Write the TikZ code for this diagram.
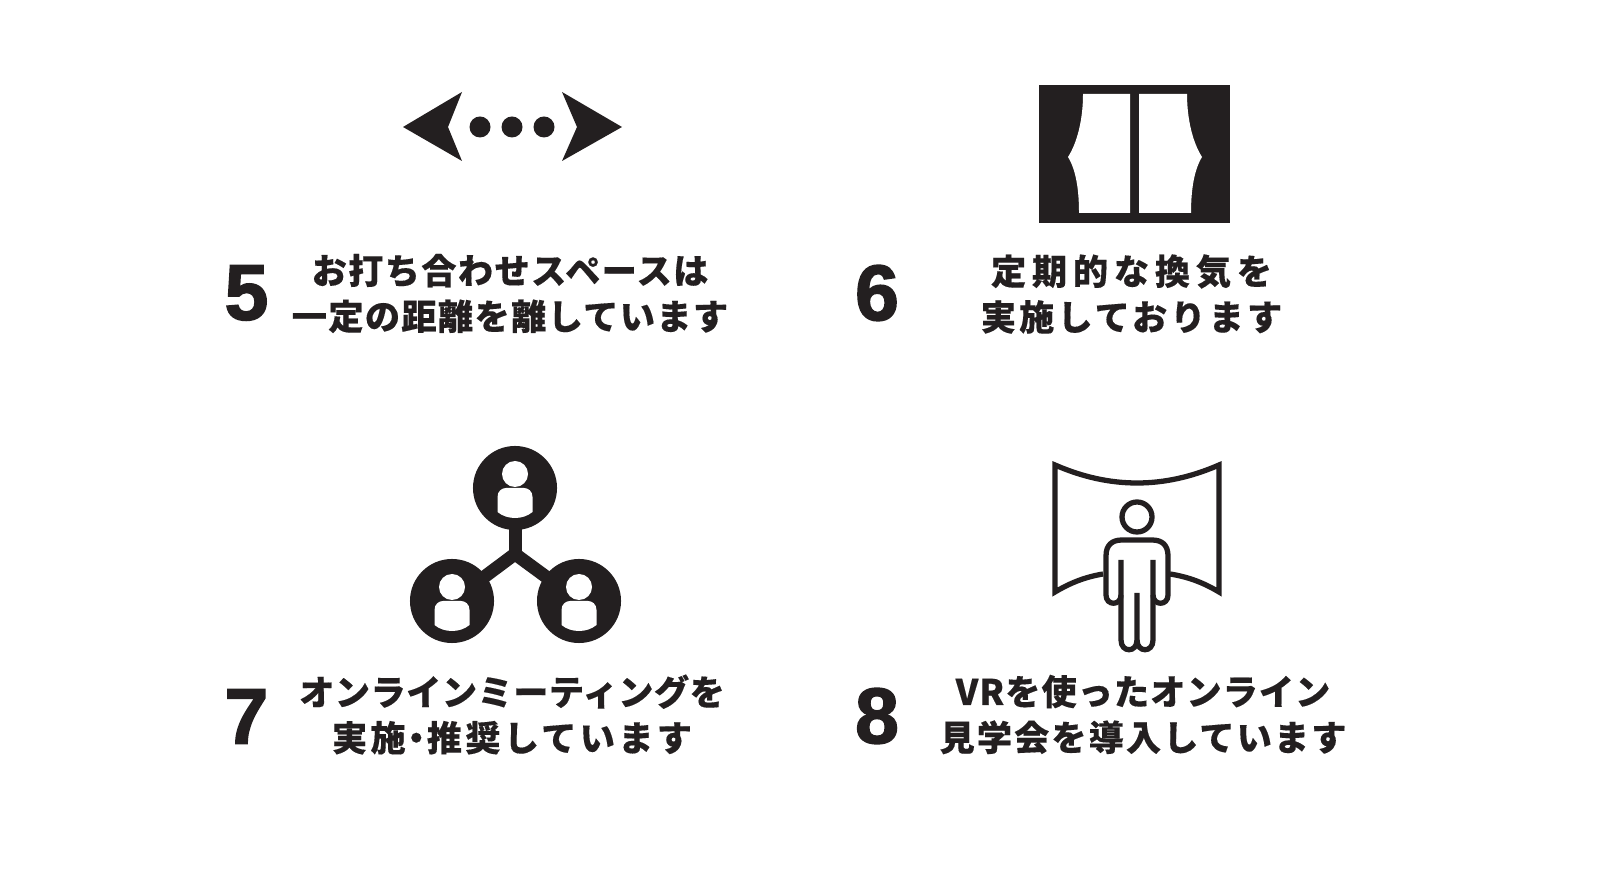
\documentclass[tikz,border=0pt]{standalone}
\usepackage{fontspec}
\setmainfont{Noto Sans CJK JP Black}[FakeBold=0.3]
\newfontfamily\numfont{Liberation Sans Bold}[FakeBold=2]
\definecolor{ink}{HTML}{231F20}
\newcommand{\trk}[2]{{\addfontfeature{LetterSpace=#1}#2}}
\tikzset{
  capt/.style={font=\fontsize{10pt}{13pt}\selectfont, text=ink, inner sep=0pt, align=center},
  num/.style={font=\fontsize{22.4pt}{24pt}\numfont, text=ink, inner sep=0pt},
  disc/.style={circle, fill=ink, minimum size=0.84cm, inner sep=0pt},
  link/.style={draw=ink, line width=3.7pt, line join=miter},
  lineart/.style={draw=ink, line width=1.5pt, line join=miter}
}
\begin{document}
\begin{tikzpicture}[x=0.01cm, y=-0.01cm]
  \useasboundingbox (0,0) rectangle (1598,880);
  % arrows
  \fill[ink] (403,127) -- (462,92) -- (448,127) -- (462,161) -- cycle;
  \fill[ink] (622,127) -- (562,92) -- (577,127) -- (562,161) -- cycle;
  \foreach \px in {480,512,544}
    \fill[ink] (\px,127) circle (10.5);
  % curtains
  \fill[ink] (1039,85) rectangle (1230,223);
  \fill[white] (1083,94) -- (1130,94) -- (1130,213) -- (1079,213)
    .. controls (1079,190) and (1076,170) .. (1068,157)
    .. controls (1077,143) and (1083,120) .. (1083,94) -- cycle;
  \fill[white] (1187,94) -- (1139,94) -- (1139,213) -- (1191,213)
    .. controls (1191,190) and (1194,170) .. (1202,157)
    .. controls (1193,143) and (1187,120) .. (1187,94) -- cycle;
  % meeting
  \coordinate (hub) at (515,554);
  \foreach \nm/\px/\py in {top/515/488, lft/452/601, rgt/579/601} {
    \node[disc] (\nm) at (\px,\py) {};
    \fill[white] (\px,\py-14) circle (13);
    \fill[white] (\px-17.5,\py+9) .. controls (\px-17.5,\py+3) and (\px-13,\py) .. (\px-9,\py)
      -- (\px+9,\py) .. controls (\px+13,\py) and (\px+17.5,\py+3) .. (\px+17.5,\py+9)
      -- (\px+17.5,\py+24) .. controls (\px+8,\py+32) and (\px-8,\py+32) .. (\px-17.5,\py+24) -- cycle;
  }
  \draw[link, shorten <=-1.5pt] (top) -- (hub);
  \draw[link, shorten <=-1.5pt, shorten >=-1.5pt] (lft) -- (hub) -- (rgt);
  % vr
  \draw[lineart] (1103,574) .. controls (1085,577) and (1070,583) .. (1055,592)
    -- (1055,465) .. controls (1110,489) and (1164,489) .. (1219,465) -- (1219,592)
    .. controls (1204,583) and (1189,577) .. (1170,574);
  \draw[lineart] (1137,517) circle (15);
  \draw[lineart] (1121,560) -- (1121,640) .. controls (1121,653) and (1137,653) .. (1137,640) -- (1137,593);
  \draw[lineart] (1137,640) .. controls (1137,653) and (1153,653) .. (1153,640) -- (1153,560);
  \draw[lineart] (1121,595) .. controls (1121,606) and (1106,606) .. (1106,595) -- (1106,556)
    .. controls (1106,545) and (1112,540) .. (1122,540) -- (1152,540)
    .. controls (1162,540) and (1168,545) .. (1168,556) -- (1168,595)
    .. controls (1168,606) and (1153,606) .. (1153,595);
  % labels
  \node[num] (n5) at (246.5,293) {5};
  \node[num] (n6) at (877,293) {6};
  \node[num] (n7) at (246.5,716.5) {7};
  \node[num] (n8) at (877,716) {8};
  \node[capt] (t5) at (510,293.5) {\trk{4}{お打ち合わせスペースは}\\\trk{4}{一定の距離を離しています}};
  \node[capt] (t6) at (1131.5,294) {\trk{16.5}{定期的な換気を}\\\trk{9}{実施しております}};
  \node[capt] (t7) at (512,714.5) {\trk{1.5}{オンラインミーティングを}\\\trk{9.5}{実施\kern-.2em・\kern-.2em推奨しています}};
  \node[capt] (t8) at (1143,714.5) {\trk{3}{VRを使ったオンライン}\\\trk{6}{見学会を導入しています}};
\end{tikzpicture}
\end{document}
